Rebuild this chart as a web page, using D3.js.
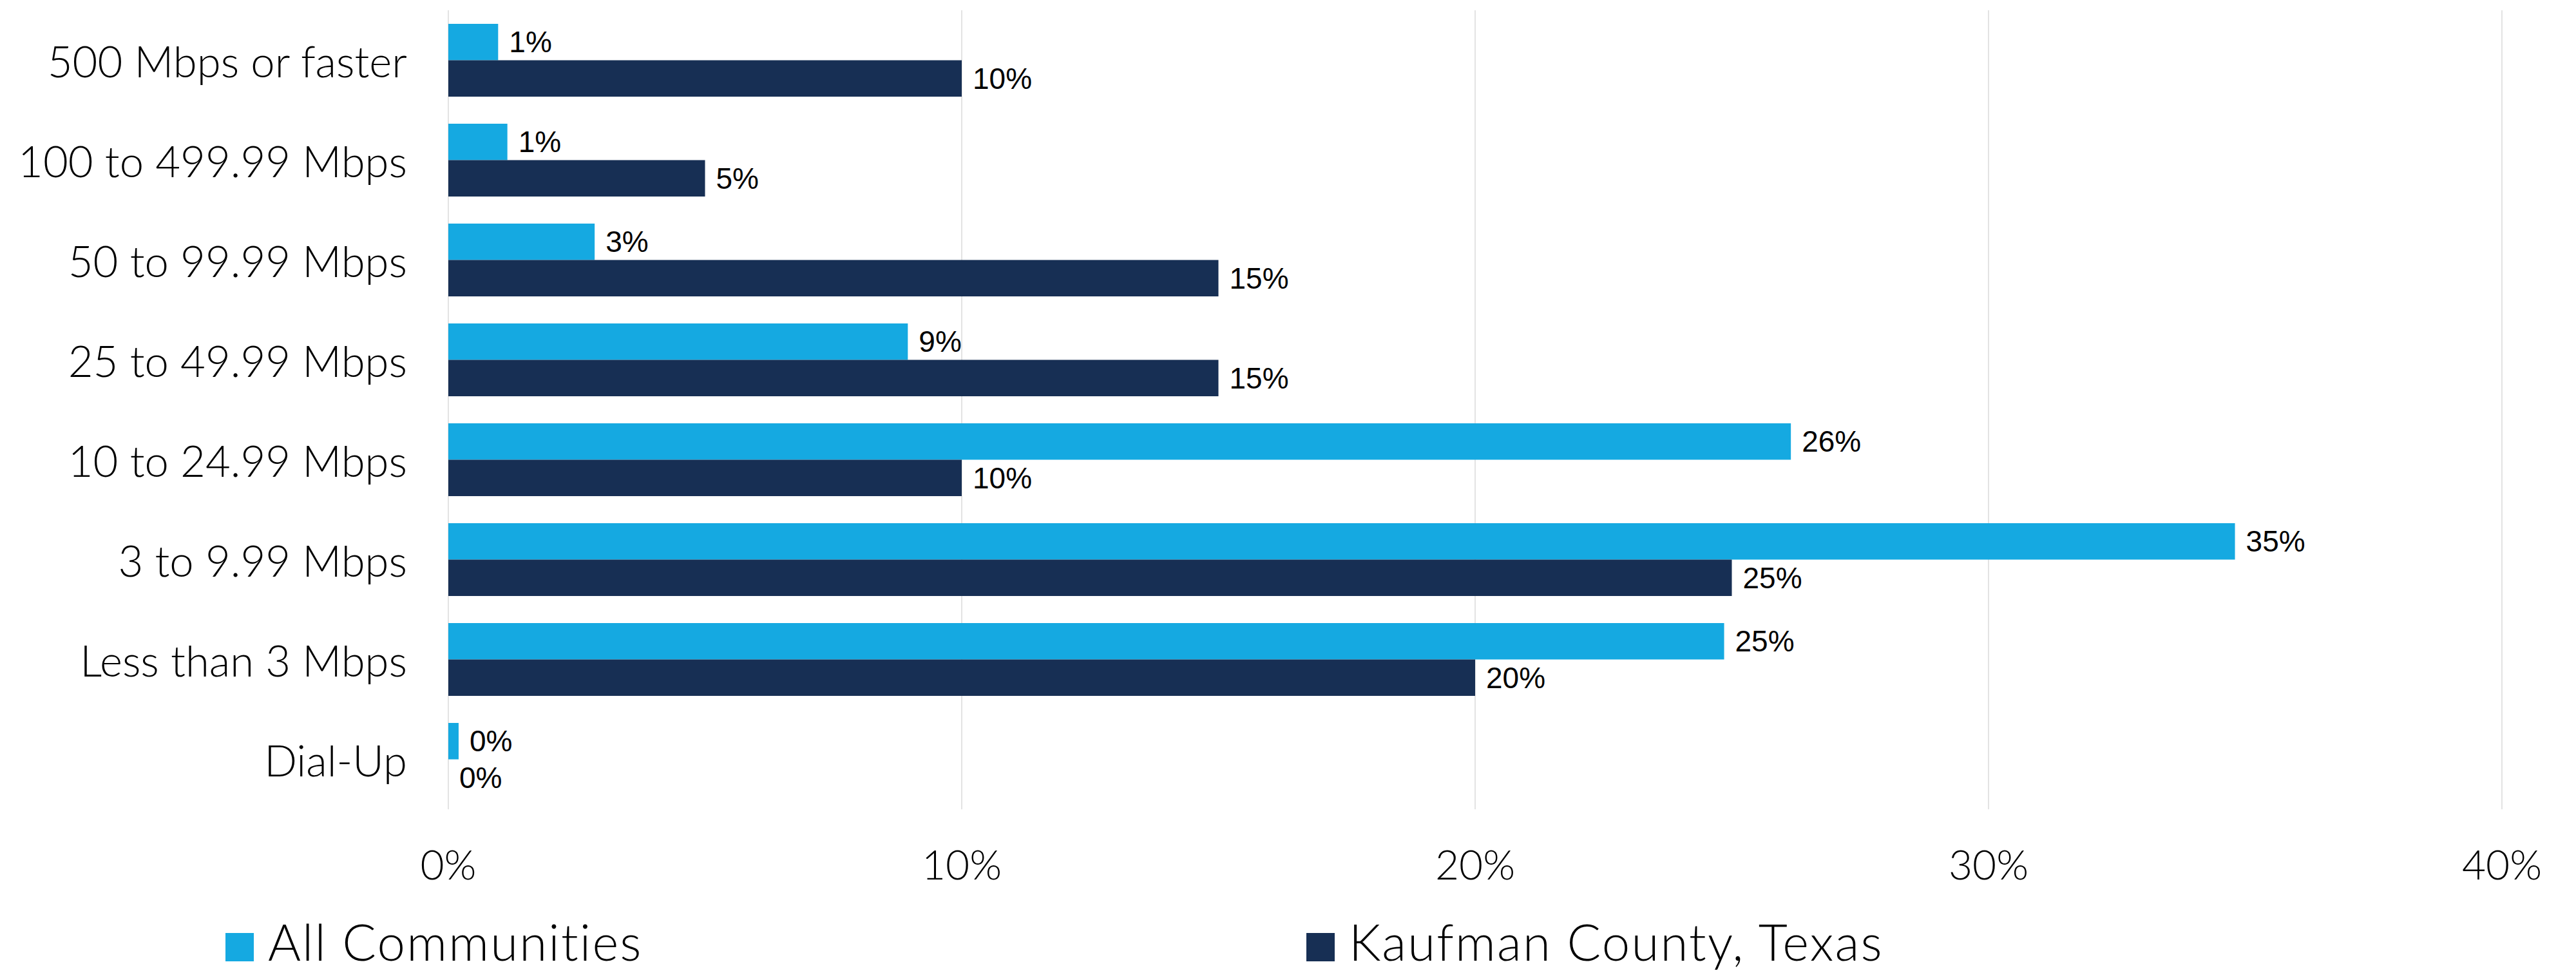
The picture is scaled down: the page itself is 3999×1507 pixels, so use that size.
<!DOCTYPE html>
<html>
<head>
<meta charset="utf-8">
<script src="https://cdn.jsdelivr.net/npm/d3@7"></script>
<style>
  body { margin: 0; background: #ffffff; }
  svg { display: block; }
  .cat, .tick-label, .legend-label { font-family: "Lato", sans-serif; font-weight: 300; fill: #000; }
  .value { font-family: "Liberation Sans Narrow", "Liberation Sans", sans-serif; fill: #000; }
</style>
</head>
<body>
<svg id="chart"></svg>
<script>
const categories = [
  "500 Mbps or faster",
  "100 to 499.99 Mbps",
  "50 to 99.99 Mbps",
  "25 to 49.99 Mbps",
  "10 to 24.99 Mbps",
  "3 to 9.99 Mbps",
  "Less than 3 Mbps",
  "Dial-Up"
];
const seriesNames = ["All Communities", "Kaufman County, Texas"];
const allCommunities = [0.97, 1.15, 2.85, 8.95, 26.15, 34.8, 24.85, 0.2];
const kaufmanCounty = [10, 5, 15, 15, 10, 25, 20, 0];
const xTicks = [0, 10, 20, 30, 40];
const colours = ["#15a9e1", "#172f54"];

const width = 3999;
const height = 1507;
const margin = { top: 16, left: 696, right: 115 };
const plotBottom = 1256;

const svg = d3.select("svg#chart").attr("width", width).attr("height", height);

const x = d3.scaleLinear().domain([0, 40]).range([margin.left, width - margin.right]);
const y = d3.scaleBand().domain(categories).range([margin.top, plotBottom])
  .paddingInner(0.271).paddingOuter(0.1355);
const sub = d3.scaleBand().domain(seriesNames).range([0, y.bandwidth()]);

// gridlines
svg.append("g")
  .selectAll("line")
  .data(xTicks)
  .join("line")
  .attr("x1", (d) => x(d)).attr("x2", (d) => x(d))
  .attr("y1", margin.top).attr("y2", plotBottom)
  .attr("stroke", "#e3e3e3").attr("stroke-width", 2);

// x tick labels
svg.append("g")
  .selectAll("text")
  .data(xTicks)
  .join("text")
  .attr("class", "tick-label")
  .attr("x", (d) => x(d)).attr("y", 1340)
  .attr("text-anchor", "middle").attr("dominant-baseline", "central")
  .attr("font-size", 64)
  .text((d) => d + "%");

// category labels
svg.append("g")
  .selectAll("text")
  .data(categories)
  .join("text")
  .attr("class", "cat")
  .attr("x", 632).attr("y", (d) => y(d) + y.bandwidth() / 2)
  .attr("text-anchor", "end").attr("dominant-baseline", "central")
  .attr("font-size", 67)
  .text((d) => d);

const rows = categories.map((c, i) => ({
  category: c,
  values: [allCommunities[i], kaufmanCounty[i]]
}));

const groups = svg.append("g")
  .selectAll("g")
  .data(rows)
  .join("g")
  .attr("transform", (d) => `translate(0,${y(d.category)})`);

const cells = groups.selectAll("g")
  .data((d) => d.values.map((v, j) => ({ v, s: seriesNames[j], j })))
  .join("g");

cells.append("rect")
  .attr("x", x(0))
  .attr("y", (d) => sub(d.s))
  .attr("width", (d) => x(d.v) - x(0))
  .attr("height", sub.bandwidth())
  .attr("fill", (d) => colours[d.j]);

cells.append("text")
  .attr("class", "value")
  .attr("x", (d) => x(d.v) + 17)
  .attr("y", (d) => sub(d.s) + sub.bandwidth() / 2)
  .attr("dominant-baseline", "central")
  .attr("font-size", 46)
  .text((d) => Math.round(d.v) + "%");

// legend
const legendX = [350, 2028];
const legend = svg.append("g")
  .selectAll("g")
  .data(seriesNames)
  .join("g")
  .attr("transform", (d, i) => `translate(${legendX[i]},1448)`);

legend.append("rect")
  .attr("width", 44).attr("height", 44)
  .attr("fill", (d, i) => colours[i]);

legend.append("text")
  .attr("class", "legend-label")
  .attr("x", 66).attr("y", 43)
  .attr("font-size", 78)
  .attr("letter-spacing", 2.2)
  .text((d) => d);
</script>
</body>
</html>
